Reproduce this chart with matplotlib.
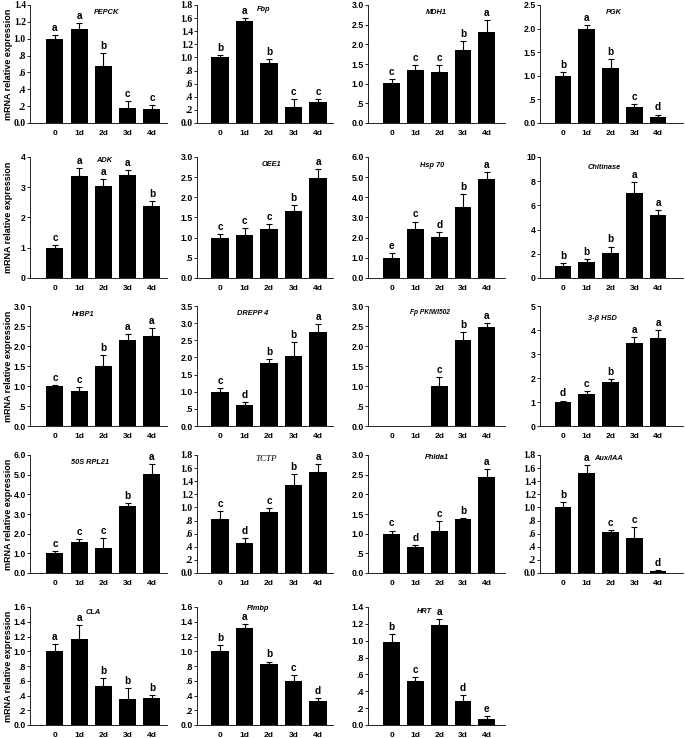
import numpy as np
import matplotlib.pyplot as plt
from matplotlib.ticker import FixedLocator, FixedFormatter

plt.rcParams['font.family'] = ['Liberation Sans', 'DejaVu Sans']

days = ["0", "1d", "2d", "3d", "4d"]

genes = ["PEPCK", "Fbp", "MDH1", "PGK",
         "ADK", "OEE1", "Hsp 70", "Chitinase",
         "HrBP1", "DREPP 4", "Fp PKIWI502", "3-\u03b2 HSD",
         "50S RPL21", "TCTP", "Phlda1", "Aux/IAA",
         "CLA", "Plmbp", "HRT"]

means = [
    [1.0, 1.11, 0.68, 0.18, 0.17],
    [1.0, 1.56, 0.92, 0.25, 0.32],
    [1.01, 1.36, 1.29, 1.86, 2.31],
    [1.0, 1.99, 1.16, 0.34, 0.13],
    [1.0, 3.36, 3.04, 3.39, 2.38],
    [0.99, 1.06, 1.21, 1.65, 2.49],
    [0.99, 2.41, 2.04, 3.54, 4.9],
    [0.99, 1.32, 2.1, 7.04, 5.2],
    [1.0, 0.88, 1.5, 2.14, 2.25],
    [1.0, 0.62, 1.84, 2.05, 2.74],
    [0.0, 0.0, 1.0, 2.15, 2.48],
    [0.98, 1.32, 1.83, 3.46, 3.68],
    [1.01, 1.57, 1.27, 3.41, 5.02],
    [0.83, 0.46, 0.93, 1.34, 1.54],
    [1.0, 0.65, 1.08, 1.37, 2.45],
    [1.0, 1.52, 0.62, 0.53, 0.03],
    [1.0, 1.17, 0.53, 0.35, 0.36],
    [1.0, 1.31, 0.83, 0.59, 0.32],
    [0.99, 0.52, 1.19, 0.29, 0.07],
]

errors = [
    [0.04, 0.08, 0.15, 0.08, 0.04],
    [0.04, 0.04, 0.06, 0.11, 0.05],
    [0.11, 0.12, 0.19, 0.22, 0.31],
    [0.08, 0.09, 0.20, 0.07, 0.05],
    [0.10, 0.28, 0.24, 0.19, 0.15],
    [0.11, 0.18, 0.12, 0.17, 0.22],
    [0.25, 0.39, 0.26, 0.63, 0.37],
    [0.28, 0.28, 0.50, 0.90, 0.43],
    [0.02, 0.10, 0.27, 0.17, 0.19],
    [0.10, 0.08, 0.12, 0.39, 0.24],
    [0.0, 0.0, 0.23, 0.20, 0.10],
    [0.08, 0.14, 0.12, 0.26, 0.32],
    [0.09, 0.15, 0.50, 0.14, 0.50],
    [0.11, 0.08, 0.06, 0.17, 0.12],
    [0.08, 0.07, 0.25, 0.03, 0.19],
    [0.08, 0.13, 0.03, 0.17, 0.01],
    [0.10, 0.18, 0.11, 0.15, 0.05],
    [0.08, 0.06, 0.03, 0.09, 0.04],
    [0.09, 0.05, 0.07, 0.07, 0.04],
]

letters = [
    "aabcc", "babcc", "cccba", "babcd",
    "caaab", "cccba", "ecdba", "bbbaa",
    "ccbaa", "cdbba", "  cba", "dcbaa",
    "cccba", "cdcba", "cdcba", "baccd",
    "aabbb", "babcd", "bcade",
]

ymax = [1.4, 1.8, 3.0, 2.5, 4, 3.0, 6.0, 10, 3.0, 3.5, 3.0, 5, 6.0, 1.8, 3.0, 1.8, 1.6, 1.6, 1.4]
ystep = [0.2, 0.2, 0.5, 0.5, 1, 0.5, 1.0, 2, 0.5, 0.5, 0.5, 1, 1.0, 0.2, 0.5, 0.2, 0.2, 0.2, 0.2]
int_ticks = [False, False, False, False, True, False, False, True, False, False, False, True,
             False, False, False, False, False, False, False]
serif_ticks = [True, True, False, False, False, False, False, False, False, False, False, False,
               False, True, False, True, False, False, False]
title_x = [0.56, 0.49, 0.5, 0.52, 0.54, 0.55, 0.47, 0.45, 0.39, 0.41, 0.45, 0.44,
           0.44, 0.51, 0.5, 0.48, 0.46, 0.45, 0.41]
title_y = [0.94, 0.96, 0.94, 0.94, 0.97, 0.94, 0.93, 0.91, 0.925, 0.94, 0.95, 0.9,
           0.94, 0.97, 0.98, 0.97, 0.95, 0.99, 0.96]

W, H = 685, 738
col_left = [30, 197, 368, 540]
col_right = [167, 333, 505, 683]
col_xlim = [(-1.03, 4.62), (-0.94, 4.61), (-1.0, 4.77), (-0.97, 5.05)]
row_top = [5, 157, 306, 455, 607]
row_bot = [123, 278, 426, 573, 725]

fig = plt.figure(figsize=(W / 100, H / 100), dpi=100)


def fmt(v, integer):
    if integer:
        return f"{v:.0f}"
    s = f"{v:.1f}"
    if v != 0 and s.startswith("0."):
        s = s[1:]
    return s


x = np.arange(len(days))
for i, g in enumerate(genes):
    r, c = divmod(i, 4)
    ax = fig.add_axes([col_left[c] / W, 1 - row_bot[r] / H,
                       (col_right[c] - col_left[c]) / W, (row_bot[r] - row_top[r]) / H])
    m = np.array(means[i])
    e = np.array(errors[i])
    ax.bar(x, m, width=0.7, color="black", zorder=2)
    mask = m > 0
    ax.errorbar(x[mask], m[mask], yerr=[np.zeros(mask.sum()), e[mask]], fmt="none",
                ecolor="black", elinewidth=0.8, capsize=2, capthick=0.8, zorder=3)
    for xi, yi, ei, lt in zip(x, m, e, letters[i]):
        if lt.strip():
            ax.annotate(lt, (xi, yi + ei), xytext=(0, 1.5), textcoords="offset points",
                        ha="center", va="bottom", fontsize=7.2, fontweight="bold")
    ax.set_xlim(*col_xlim[c])
    ax.set_ylim(0, ymax[i])
    ticks = np.round(np.arange(0, ymax[i] + ystep[i] / 2, ystep[i]), 3)
    ax.yaxis.set_major_locator(FixedLocator(ticks))
    ax.yaxis.set_major_formatter(FixedFormatter([fmt(t, int_ticks[i]) for t in ticks]))
    ax.set_xticks(x)
    ax.set_xticklabels(days, fontsize=6, fontweight="bold")
    ax.tick_params(axis="x", length=0, pad=5)
    ax.tick_params(axis="y", length=2, width=0.6, pad=1, direction="out")
    tfam = ["Liberation Serif"] if serif_ticks[i] else ["Liberation Sans"]
    for lab in ax.get_yticklabels():
        lab.set_fontsize(6.3 if not serif_ticks[i] else 7)
        lab.set_fontweight("bold")
        lab.set_family(tfam)
    for s in ["top", "right"]:
        ax.spines[s].set_visible(False)
    for s in ["left", "bottom"]:
        ax.spines[s].set_linewidth(0.6)
    if g == "TCTP":
        ax.text(title_x[i], title_y[i], g, transform=ax.transAxes, ha="center", va="center",
                fontsize=6.5, fontstyle="italic", family=["Liberation Serif"])
    else:
        ax.text(title_x[i], title_y[i], g, transform=ax.transAxes, ha="center", va="center",
                fontsize=5.3 if len(g) < 10 else 4.8, fontstyle="italic", fontweight="bold")
    if c == 0:
        fig.text(8.5 / W, 1 - (row_top[r] + row_bot[r]) / 2 / H, "mRNA relative expression",
                 rotation=90, ha="center", va="center", fontsize=6.5, fontweight="bold")

fig.savefig("out.png", dpi=100)
